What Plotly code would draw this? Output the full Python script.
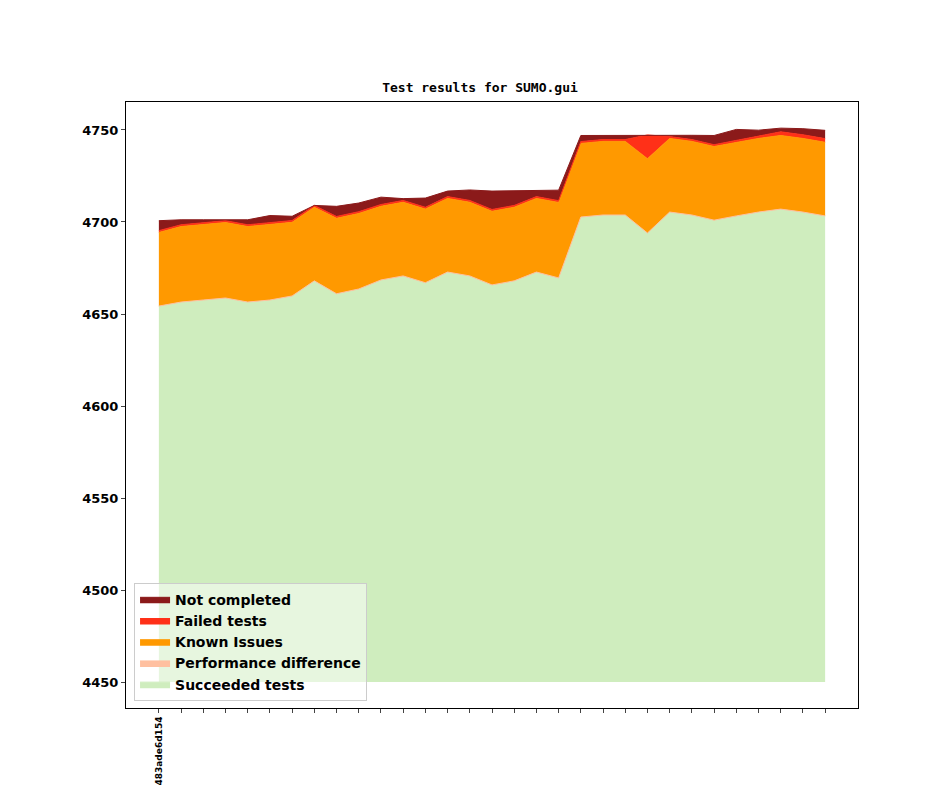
import plotly.graph_objects as go

revisions = ["483ade6d154"] + [""] * 30
base = 4450
succeeded = [4654.3, 4656.5, 4657.6, 4658.7, 4656.5, 4657.6, 4659.8, 4668, 4661, 4663.6,
             4668.5, 4670.7, 4667, 4672.8, 4670.7, 4665.8, 4668, 4672.8, 4669.6, 4702.7,
             4703.8, 4703.8, 4694, 4705.4, 4703.8, 4701, 4703.3, 4705.4, 4707, 4705.4, 4703.3]
perf_diff = [0] * 31
known_issues = [40, 41, 41, 41, 41, 41, 40, 40, 41, 41, 40, 40, 40, 40, 40, 40, 40, 40, 41, 40,
                40, 40, 40.4, 40, 40, 40, 40, 40, 40, 40, 40]
failed = [1] * 22 + [12.9] + [1] * 4 + [1.5, 2, 2, 2]
not_completed = [5.4, 2.7, 1.6, 0.5, 2.7, 3.9, 2.3, 0, 5.5, 4.7, 4, 1, 5, 3, 5.7, 10, 8, 3, 5.7, 3.3,
                 2.3, 2.3, 0, 0.6, 2.3, 5, 6, 3, 2, 3.3, 4.5]

x = list(range(len(revisions)))
series = [
    ("Succeeded tests", [s - base for s in succeeded], "#cfedbe"),
    ("Performance difference", perf_diff, "#ffc0a0"),
    ("Known Issues", known_issues, "#ff9900"),
    ("Failed tests", failed, "#ff3018"),
    ("Not completed", not_completed, "#8b1a1a"),
]

fig = go.Figure()
fig.add_trace(go.Scatter(x=x, y=[base] * len(x), mode="lines", line=dict(width=0),
                         showlegend=False, hoverinfo="skip"))
cum = [base] * len(x)
for name, vals, color in series:
    cum = [c + v for c, v in zip(cum, vals)]
    fig.add_trace(go.Scatter(x=x, y=cum, name="<b>%s</b>" % name, mode="lines", fill="tonexty",
                             fillcolor=color, line=dict(color=color, width=1)))

fig.update_layout(
    width=944, height=787,
    paper_bgcolor="white", plot_bgcolor="white",
    margin=dict(l=118, r=94, t=94, b=87),
    title=dict(text="<b>Test results for SUMO.gui</b>", x=0.5, xanchor="center", y=0.905,
               font=dict(family="DejaVu Sans Mono", size=13, color="black")),
    legend=dict(x=0.011, y=0.012, xanchor="left", yanchor="bottom", traceorder="reversed",
                bgcolor="rgba(255,255,255,0.5)", bordercolor="#cccccc", borderwidth=1,
                font=dict(family="DejaVu Sans", size=14, color="black"), itemwidth=30),
    font=dict(family="DejaVu Sans", color="black"),
)
fig.update_xaxes(range=[-1.48, 31.48], tickvals=x, ticktext=["<b>%s</b>" % r for r in revisions],
                 tickangle=-90, tickfont=dict(size=9), ticks="outside", ticklen=4, automargin=False,
                 showgrid=False, zeroline=False, showline=True, linecolor="black", mirror=True)
fig.update_yaxes(range=[4435.9, 4765.2], tickvals=[4450, 4500, 4550, 4600, 4650, 4700, 4750],
                 ticktext=["<b>%d</b>" % v for v in [4450, 4500, 4550, 4600, 4650, 4700, 4750]],
                 tickfont=dict(size=13), ticks="outside", ticklen=4, automargin=False,
                 showgrid=False, zeroline=False, showline=True, linecolor="black", mirror=True)

fig.write_html("out.html")
